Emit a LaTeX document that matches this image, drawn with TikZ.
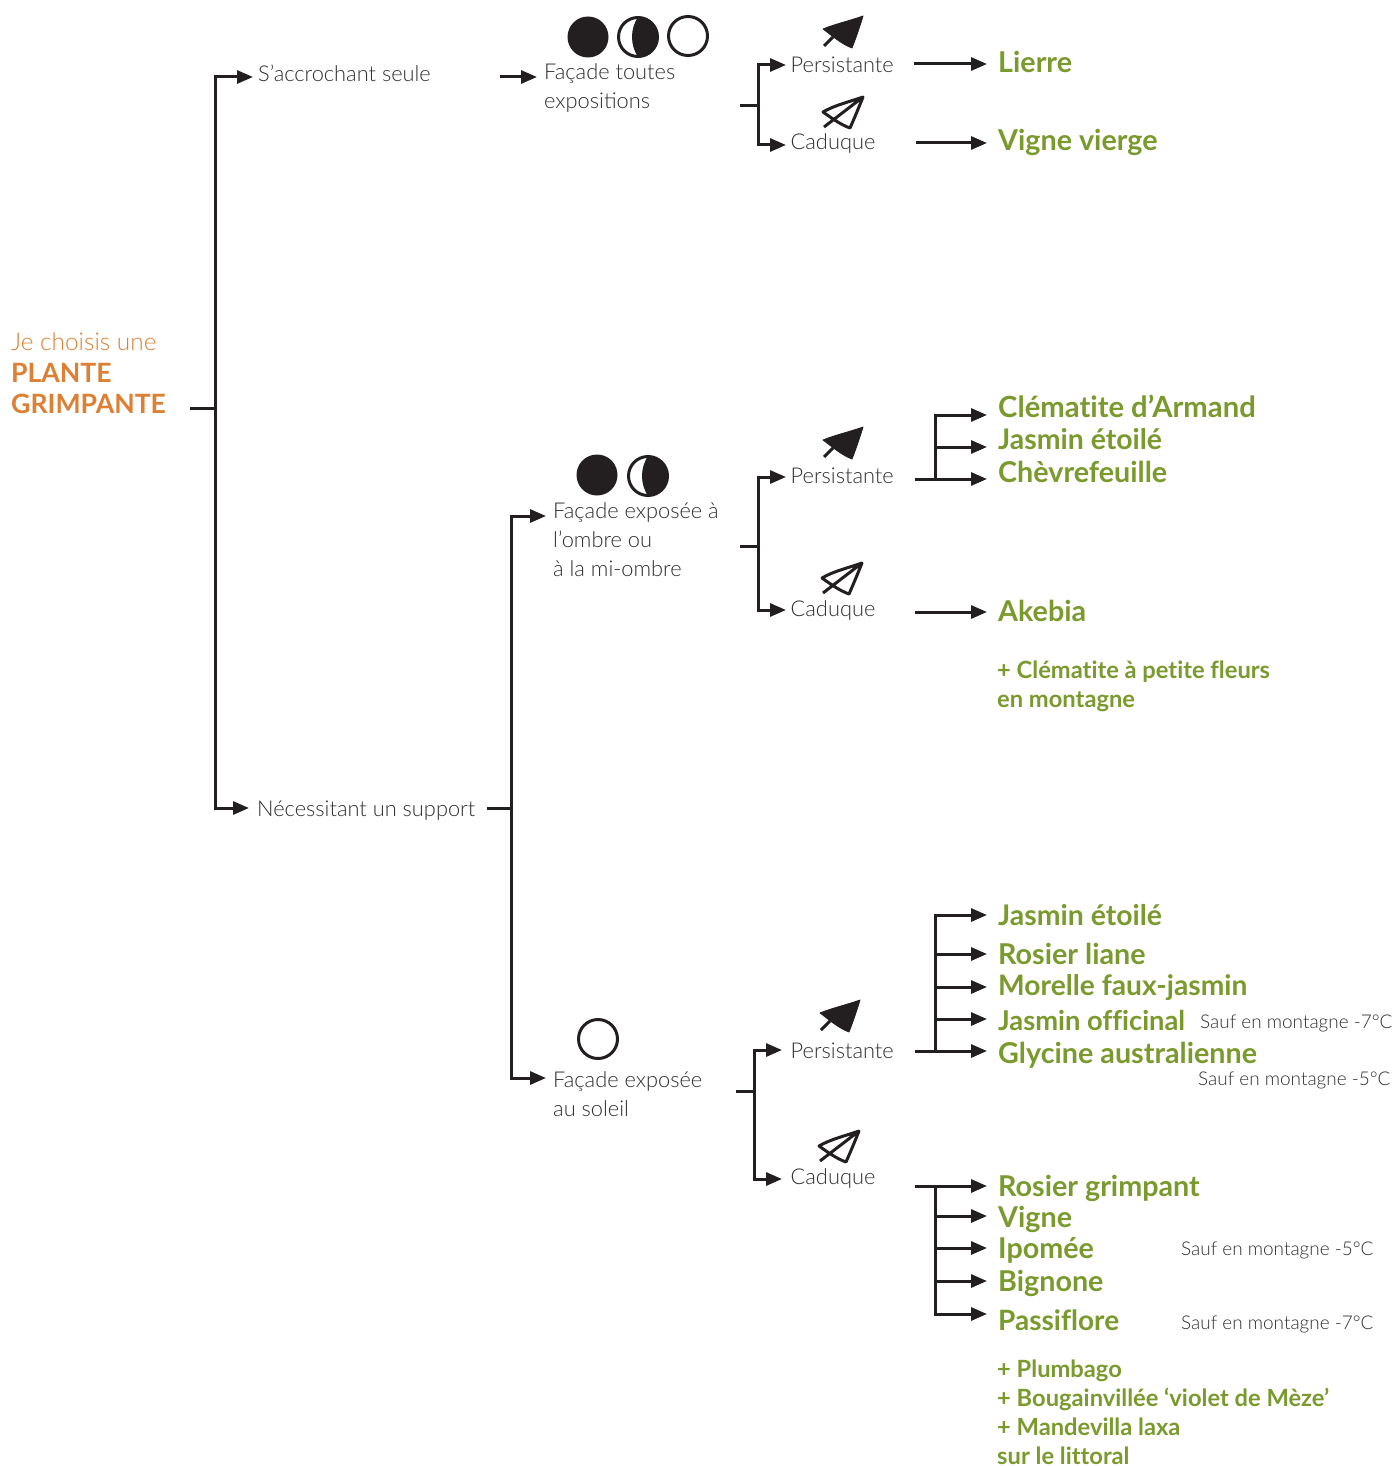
\documentclass[tikz,border=0pt]{standalone}
\usepackage{fontspec}
\setmainfont{Lato Light}
\newfontfamily\gfont{Lato Bold}[Ligatures=NoCommon]
\usetikzlibrary{arrows.meta}
\definecolor{ink}{HTML}{231F20}
\definecolor{txt}{HTML}{302E2F}
\definecolor{leafgreen}{HTML}{7A9A2E}
\definecolor{orangeT}{HTML}{DD8033}
\tikzset{
  conn/.style={draw=ink,line width=3pt},
  arr/.style={conn,-{Triangle[length=16pt,width=13pt]}},
  lab/.style={anchor=west,inner ysep=0pt,inner xsep=4.5pt,text=txt,font=\fontsize{21.8}{29}\selectfont,text height=18pt,text depth=6pt},
  multi/.style={anchor=north west,inner ysep=0pt,inner xsep=7pt,text=txt,align=left,font=\fontsize{21.8}{29}\selectfont},
  sp/.style={lab,inner xsep=11pt,text=leafgreen,font=\fontsize{28.7}{31}\gfont,text height=22pt,text depth=7pt},
  spx/.style={anchor=north west,inner sep=0pt,text=leafgreen,align=left,font=\fontsize{23.7}{29}\gfont},
  note/.style={anchor=base west,inner sep=0pt,text=txt,font=\fontsize{18.95}{24}\selectfont},
  leaffill/.pic={
    \fill[ink,line join=round,draw=ink,line width=.8pt] (0,0) .. controls (-14,5) and (-28,8) .. (-40,13) .. controls (-33,18) and (-22,28) .. (-11,32) .. controls (-7,22) and (-3,10) .. (0,0) -- cycle;
    \draw[ink,line width=3pt] (-30,21) -- (-39,30);
  },
  leafline/.pic={
    \draw[ink,line width=3pt,line join=round] (0,0) .. controls (-14,5) and (-28,8) .. (-40,15) .. controls (-33,20) and (-22,28) .. (-13,31) .. controls (-9,22) and (-4,10) .. (0,0) -- (-39,30);
  },
  moonfull/.pic={\fill[ink] (0,0) circle[radius=20.5];},
  moonnew/.pic={\draw[ink,line width=3pt] (0,0) circle[radius=19.5];},
  moonhalf/.pic={
    \fill[ink] (0,-20) arc[start angle=-90,end angle=90,radius=20] .. controls (-8,8) and (-8,-8) .. (0,-20) -- cycle;
    \draw[ink,line width=3pt] (0,0) circle[radius=19.5];
  },
}
\begin{document}
\begin{tikzpicture}[x=1pt,y=-1pt]
\useasboundingbox (0,0) rectangle (1397,1466);
\fill[white] (0,0) rectangle (1397,1466);

% root
\node[anchor=north west,inner sep=0pt,align=left,text=orangeT,font=\fontsize{24.4}{31.2}\selectfont] (root) at (11,333) {Je choisis une\\{\fontsize{26.6}{31.2}\gfont PLANTE}\\{\fontsize{26.6}{31.2}\gfont GRIMPANTE}};
% first level
\node[lab,inner xsep=5pt] (seule) at (253,76) {S'accrochant seule};
\node[lab,inner xsep=8pt] (support) at (249,810) {Nécessitant un support};
% second level
\node[multi] (toutes) at (537,61) {\rule{0pt}{18pt}Façade toutes\\expositions};
\node[multi] (ombre) at (546,500) {\rule{0pt}{18pt}Façade exposée à\\l'ombre ou\\à la mi-ombre};
\node[multi] (soleil) at (546,1069) {\rule{0pt}{18pt}Façade exposée\\au soleil};
% third level
\node[lab] (persA) at (786,67) {Persistante};
\node[lab] (cadA) at (786,144) {Caduque};
\node[lab] (persB) at (786,477) {Persistante};
\node[lab] (cadB) at (786,610) {Caduque};
\node[lab,inner xsep=8.5pt] (persC) at (782,1052) {Persistante};
\node[lab,inner xsep=8.5pt] (cadC) at (782,1178) {Caduque};
% species
\node[sp] (lierre) at (987,65.5) {Lierre};
\node[sp] (vvierge) at (987,143.5) {Vigne vierge};
\node[sp,font=\fontsize{29.2}{31}\gfont] (armand) at (987,409.5) {Clématite d’Armand};
\node[sp,font=\fontsize{28.4}{31}\gfont] (jasA) at (987,441.5) {Jasmin étoilé};
\node[sp] (chevre) at (987,474.5) {Chèvrefeuille};
\node[sp] (akebia) at (987,613.5) {Akebia};
\node[sp,font=\fontsize{28.4}{31}\gfont] (jasB) at (987,917.5) {Jasmin étoilé};
\node[sp] (rosl) at (987,956.5) {Rosier liane};
\node[sp,font=\fontsize{28.2}{31}\gfont] (morelle) at (987,987.5) {Morelle faux-jasmin};
\node[sp,font=\fontsize{27.3}{31}\gfont] (offic) at (987,1022.5) {Jasmin officinal};
\node[sp] (glyc) at (987,1055.5) {Glycine australienne};
\node[sp] (rosg) at (987,1188.5) {Rosier grimpant};
\node[sp] (vigne) at (987,1219.5) {Vigne};
\node[sp] (ipo) at (987,1250.5) {Ipomée};
\node[sp] (big) at (987,1283.5) {Bignone};
\node[sp,font=\fontsize{28}{31}\gfont] (pass) at (987,1322.5) {Passiflore};
% extras
\node[spx] (plusA) at (997,661) {+ Clématite à petite fleurs\\en montagne};
\node[spx] (plusB) at (997,1359.5) {+ Plumbago\\+ Bougainvillée ‘violet de Mèze’\\+ Mandevilla laxa\\sur le littoral};
% notes
\node[note] (n1) at (1200,1028) {Sauf en montagne -7°C};
\node[note] (n2) at (1198,1085) {Sauf en montagne -5°C};
\node[note] (n3) at (1181,1255) {Sauf en montagne -5°C};
\node[note] (n4) at (1181,1329) {Sauf en montagne -7°C};

% icons
\pic at (588,37) {moonfull};
\pic at (638,37) {moonhalf};
\pic at (688,36) {moonnew};
\pic at (597,475) {moonfull};
\pic at (648,476) {moonhalf};
\pic at (598,1039) {moonnew};
\pic at (863,16) {leaffill};
\pic at (863,97) {leafline};
\pic at (863,427) {leaffill};
\pic at (862,563) {leafline};
\pic at (860,1000) {leaffill};
\pic at (859,1131) {leafline};

% connector anchors
\coordinate (s0) at (190,408);
\coordinate (t0) at (215,408);
\coordinate (s1) at (500,77);
\coordinate (s2) at (487,808);
\coordinate (t2) at (511,808);
\coordinate (s3) at (740,106);
\coordinate (t3) at (758,106);
\coordinate (s4) at (740,546);
\coordinate (t4) at (758,546);
\coordinate (s5) at (736,1091);
\coordinate (t5) at (754,1091);
\coordinate (s6) at (914,64);
\coordinate (s7) at (916,143);
\coordinate (s8) at (915,479);
\coordinate (t8) at (935,479);
\coordinate (s9) at (915,612);
\coordinate (s10) at (915,1051);
\coordinate (t10) at (935,1051);
\coordinate (s11) at (915,1186);
\coordinate (t11) at (935,1186);

\draw[conn] (s0) -- (t0);
\draw[arr] (t0) |- ([yshift=-1pt]seule.west);
\draw[arr] (t0) |- ([yshift=2pt]support.west);
\draw[arr] (s1) -- ([yshift=-16pt]toutes.north west);
\draw[conn] (s2) -- (t2);
\draw[arr] (t2) |- ([yshift=-16pt]ombre.north west);
\draw[arr] (t2) |- ([yshift=-9pt]soleil.north west);
\draw[conn] (s3) -- (t3);
\draw[arr] (t3) |- ([yshift=2pt]persA.west);
\draw[arr] (t3) |- ([yshift=-1pt]cadA.west);
\draw[conn] (s4) -- (t4);
\draw[arr] (t4) |- (persB.west);
\draw[arr] (t4) |- (cadB.west);
\draw[conn] (s5) -- (t5);
\draw[arr] (t5) |- ([yshift=2pt]persC.west);
\draw[arr] (t5) |- ([yshift=-1pt]cadC.west);
\draw[arr] (s6) -- ([yshift=1.5pt]lierre.west);
\draw[arr] (s7) -- ([yshift=.5pt]vvierge.west);
\draw[conn] (s8) -- (t8);
\draw[arr] (t8) |- ([yshift=-5.5pt]armand.west);
\draw[arr] (t8) |- ([yshift=-5.5pt]jasA.west);
\draw[arr] (s8) -- ([yshift=-4.5pt]chevre.west);
\draw[arr] (s9) -- ([yshift=1.5pt]akebia.west);
\draw[arr] (t10) |- ([yshift=2.5pt]jasB.west);
\draw[arr] (t10) |- ([yshift=2.5pt]rosl.west);
\draw[arr] (t10) |- ([yshift=.5pt]morelle.west);
\draw[arr] (t10) |- ([yshift=3.5pt]offic.west);
\draw[arr] (s10) -- ([yshift=4.5pt]glyc.west);
\draw[arr] (s11) -- ([yshift=2.5pt]rosg.west);
\draw[arr] (t11) |- ([yshift=3.5pt]vigne.west);
\draw[arr] (t11) |- ([yshift=2.5pt]ipo.west);
\draw[arr] (t11) |- ([yshift=2.5pt]big.west);
\draw[arr] (t11) |- ([yshift=8.5pt]pass.west);
\end{tikzpicture}
\end{document}
